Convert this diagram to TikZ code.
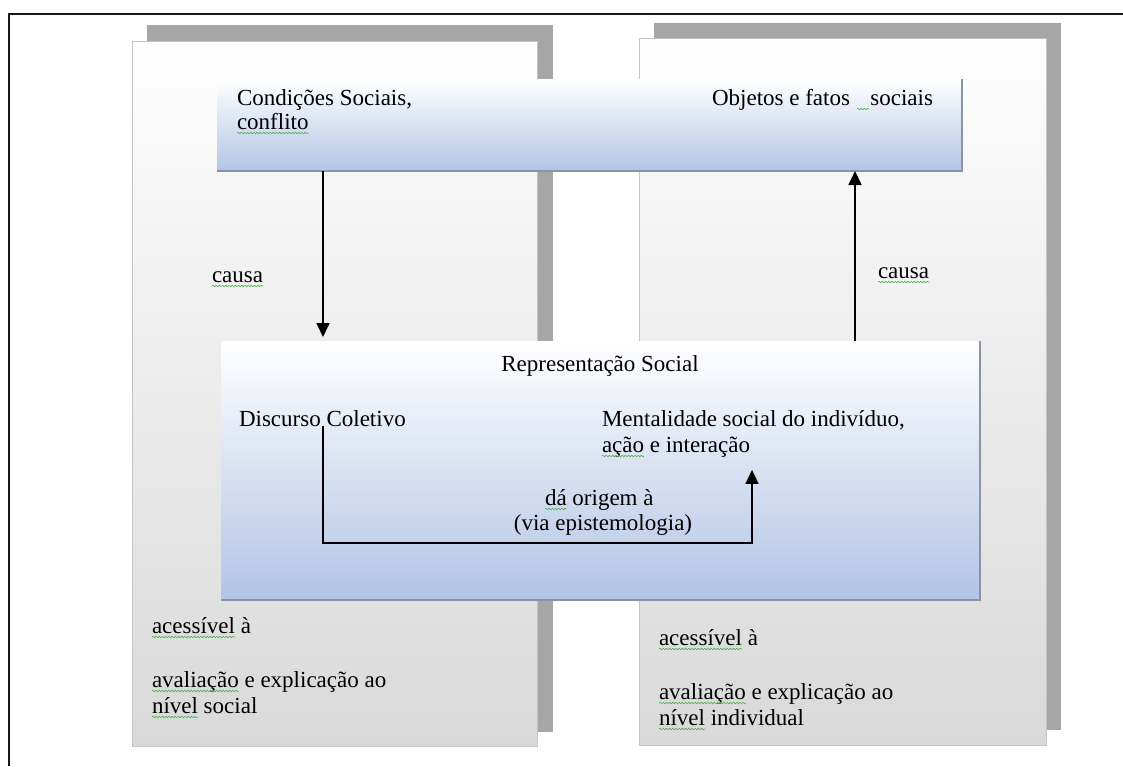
\documentclass[tikz,border=0pt]{standalone}
\usepackage{fontspec}
\setmainfont{Liberation Serif}
\usetikzlibrary{arrows.meta,decorations.pathmorphing,calc}

\definecolor{panelshadow}{HTML}{A6A6A6}
\definecolor{panelline}{HTML}{C4C4C4}
\definecolor{paneltop}{HTML}{FEFEFE}
\definecolor{panelbottom}{HTML}{D9D9D9}
\definecolor{boxblue}{HTML}{B2C4E5}
\definecolor{edgegray}{HTML}{8A94A6}
\definecolor{spellgreen}{HTML}{4FAF4F}

\tikzset{
  panelshade/.style={fill=panelshadow, draw=none},
  panel/.style={draw=panelline, line width=0.9pt, top color=paneltop, bottom color=panelbottom},
  bluebox/.style={draw=none, top color=white, bottom color=boxblue, inner sep=0pt, outer sep=0pt},
  boxrim/.style={draw=edgegray, line width=1.6pt},
  lbl/.style={inner sep=0pt, outer sep=0pt, font=\fontsize{23}{25}\selectfont, text=black},
  link/.style={line width=1.7pt, black, -{Triangle[width=13pt,length=14pt]}},
  squiggle/.style={spellgreen, line width=0.6pt, decorate,
    decoration={snake, amplitude=0.8pt, segment length=3.2pt}},
  frameline/.style={line width=2pt, black!90}
}

% wavy spell-check mark under a word node
\newcommand\spellmark[1]{\draw[squiggle] ([yshift=-4pt]#1.base west) -- ([yshift=-4pt]#1.base east);}

\begin{document}
\begin{tikzpicture}[x=1pt, y=-1pt]
  \useasboundingbox (0,0) rectangle (1123,766);
  \fill[white] (0,0) rectangle (1123,766);

  % outer frame
  \draw[frameline] (9,766) -- (9,14) -- (1123,14);

  % left panel with its shadow
  \path[panelshade] (147,25) rectangle (553,732);
  \path[panel] (132,41) rectangle (537,746);

  % right panel with its shadow
  \path[panelshade] (654,23) rectangle (1061,730);
  \path[panel] (639,38) rectangle (1046,745);

  % upper box
  \node[bluebox, minimum width=745pt, minimum height=92pt] (topbox) at (589.5,125) {};
  \draw[boxrim] (topbox.north east) -- (topbox.south east) -- (topbox.south west);

  % central box
  \node[bluebox, minimum width=759pt, minimum height=259pt] (repbox) at (600.5,470.5) {};
  \draw[boxrim] (repbox.north east) -- (repbox.south east) -- (repbox.south west);

  % texts of the upper box
  \node[lbl, anchor=base west] (cond1) at (237,105) {Condições Sociais,};
  \node[lbl, anchor=base west] (cond2) at (237,129) {conflito};
  \node[lbl, anchor=base east] (obj2) at (933,105) {sociais};
  \node[lbl, anchor=base east] (obj1) at (850,105) {Objetos e fatos};

  % side labels
  \node[lbl, anchor=base west] (causaL) at (212,282) {causa};
  \node[lbl, anchor=base west] (causaR) at (878,278) {causa};

  % texts of the central box
  \node[lbl, anchor=base] (reptitle) at (600,371) {Representação Social};
  \node[lbl, anchor=base west] (disc) at (239,426) {Discurso Coletivo};
  \node[lbl, anchor=base west] (ment1) at (602,426) {Mentalidade social do indivíduo,};
  \node[lbl, anchor=base west] (ment2) at (602,452) {ação};
  \node[lbl, anchor=base west] (ment2b) at (ment2.base east) {\ e interação};
  \node[lbl, anchor=base west] (orig1) at (545,505) {dá};
  \node[lbl, anchor=base west] (orig1b) at (orig1.base east) {\ origem à};
  \node[lbl, anchor=base] (orig2) at (603,530) {(via epistemologia)};

  % texts of the left panel
  \node[lbl, anchor=base west] (lacc) at (152,633) {acessível};
  \node[lbl, anchor=base west] (lacc2) at (lacc.base east) {\ à};
  \node[lbl, anchor=base west] (laval) at (152,687) {avaliação};
  \node[lbl, anchor=base west] (laval2) at (laval.base east) {\ e explicação ao};
  \node[lbl, anchor=base west] (lniv) at (152,713) {nível};
  \node[lbl, anchor=base west] (lniv2) at (lniv.base east) {\ social};

  % texts of the right panel
  \node[lbl, anchor=base west] (racc) at (659,645) {acessível};
  \node[lbl, anchor=base west] (racc2) at (racc.base east) {\ à};
  \node[lbl, anchor=base west] (raval) at (659,699) {avaliação};
  \node[lbl, anchor=base west] (raval2) at (raval.base east) {\ e explicação ao};
  \node[lbl, anchor=base west] (rniv) at (659,725) {nível};
  \node[lbl, anchor=base west] (rniv2) at (rniv.base east) {\ individual};

  % spell-check marks
  \spellmark{cond2}
  \spellmark{causaL}
  \spellmark{causaR}
  \spellmark{ment2}
  \spellmark{orig1}
  \spellmark{lacc}
  \spellmark{laval}
  \spellmark{lniv}
  \spellmark{racc}
  \spellmark{raval}
  \spellmark{rniv}
  \draw[squiggle] ($(obj1.base east)+(7,4)$) -- ($(obj2.base west)+(-1,4)$);

  % connectors
  \coordinate (xL) at (323,0);
  \coordinate (xR) at (855,0);
  \coordinate (xM) at (752,0);
  \coordinate (yB) at (0,543);
  \draw[link, shorten >=4pt] (topbox.south -| xL) -- (repbox.north -| xL);
  \draw[link] (repbox.north -| xR) -- (topbox.south -| xR);
  \draw[link, shorten >=13pt] (disc.south -| xL) -- (xL |- yB) -| (ment2b.south -| xM);
\end{tikzpicture}
\end{document}
